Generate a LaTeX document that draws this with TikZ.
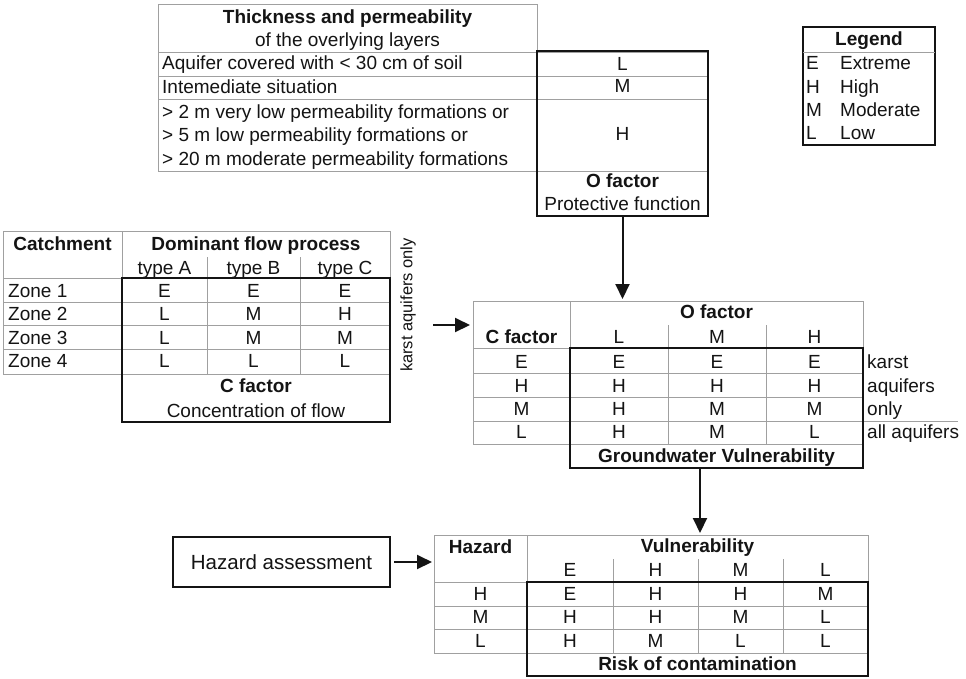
\documentclass[tikz,border=0pt]{standalone}
\usepackage{fontspec}
\setmainfont{Liberation Sans}
\usetikzlibrary{arrows.meta}
\definecolor{gridc}{RGB}{160,160,160}
\definecolor{ink}{RGB}{20,20,20}
\begin{document}
\begin{tikzpicture}[x=1pt,y=-1pt,
  thinl/.style={draw=gridc, line width=0.8pt},
  tbox/.style={draw=ink, line width=2pt, inner sep=0pt, outer sep=0pt, anchor=north west},
  txt/.style={anchor=base, inner sep=0pt, text=ink, font=\fontsize{19}{23}\selectfont},
  btxt/.style={txt, font=\fontsize{19}{23}\selectfont\bfseries},
  ltxt/.style={txt, anchor=base west},
  arr/.style={draw=ink, line width=2pt, -{Triangle[length=15pt,width=14pt]}}]
\useasboundingbox (0,0) rectangle (966,678);
\fill[white] (0,0) rectangle (966,678);

% ---------- top table (O factor)
\draw[thinl] (158,4) -- (537,4) -- (537,51);
\draw[thinl] (158,4) -- (158,171) -- (708,171);
\foreach \y in {52,76,99} \draw[thinl] (158,\y) -- (708,\y);
\node[tbox, minimum width=171pt, minimum height=165pt] (obox) at (537,51) {};
\node[btxt] (th1) at (347.5,23) {Thickness and permeability};
\node[txt] (th2) at (347.5,46) {of the overlying layers};
\node[ltxt] (tr1) at (162,69) {Aquifer covered with < 30 cm of soil};
\node[ltxt] (tr2) at (162,93) {Intemediate situation};
\node[ltxt] (tr3a) at (162,118) {> 2 m very low permeability formations or};
\node[ltxt] (tr3b) at (162,141) {> 5 m low permeability formations or};
\node[ltxt] (tr3c) at (162,165) {> 20 m moderate permeability formations};
\node[txt] (oL) at (622.5,70) {L};
\node[txt] (oM) at (622.5,92) {M};
\node[txt] (oH) at (622.5,140) {H};
\node[btxt] (of1) at (622.5,187) {O factor};
\node[txt] (of2) at (622.5,210) {Protective function};

% ---------- legend
\node[tbox, minimum width=132pt, minimum height=118pt] (leg) at (803,27) {};
\draw[thinl] (803,52) -- (935,52);
\node[btxt] (lg) at (869,45) {Legend};
\foreach \l/\w/\y [count=\i] in {E/Extreme/69,H/High/93,M/Moderate/116,L/Low/139}{
  \node[ltxt] (legl\i) at (806,\y) {\l};
  \node[ltxt] (legw\i) at (840,\y) {\w};
}

% ---------- left table (C factor)
\draw[thinl] (3,374) -- (3,231) -- (390,231) -- (390,278);
\draw[thinl] (122,231) -- (122,278);
\foreach \y in {278,302,325,349,374} \draw[thinl] (3,\y) -- (390,\y);
\foreach \x in {207,300} \draw[thinl] (\x,257) -- (\x,374);
\node[tbox, minimum width=268pt, minimum height=144pt] (cbox) at (122,278) {};
\node[btxt] (catch) at (62.5,250) {Catchment};
\node[btxt] (dfp) at (256,250) {Dominant flow process};
\node[txt] (tA) at (164.5,274) {type A};
\node[txt] (tB) at (253.5,274) {type B};
\node[txt] (tC) at (345,274) {type C};
\foreach \z/\a/\b/\c/\y in {1/E/E/E/297,2/L/M/H/320.5,3/L/M/M/344,4/L/L/L/367.5}{
  \node[ltxt] (zone\z) at (8,\y) {Zone \z};
  \node[txt] (cA\z) at (164.5,\y) {\a};
  \node[txt] (cB\z) at (253.5,\y) {\b};
  \node[txt] (cC\z) at (345,\y) {\c};
}
\node[btxt] (cf1) at (256,392) {C factor};
\node[txt] (cf2) at (256,417) {Concentration of flow};
\node[txt, anchor=center, rotate=90, font=\fontsize{16.5}{20}\selectfont] (karst) at (408,305) {karst aquifers only};

% ---------- middle table (vulnerability)
\draw[thinl] (473,444) -- (473,301) -- (863,301) -- (863,348);
\draw[thinl] (570,301) -- (570,348);
\foreach \y in {348,373,397,421,444} \draw[thinl] (473,\y) -- (863,\y);
\foreach \x in {668,766} \draw[thinl] (\x,325) -- (\x,444);
\draw[thinl] (863,421) -- (958,421);
\node[tbox, minimum width=293pt, minimum height=120pt] (gbox) at (570,348) {};
\node[btxt] (mof) at (716.5,318) {O factor};
\node[btxt] (mcf) at (521.5,343) {C factor};
\node[txt] (mhL) at (619,343) {L};
\node[txt] (mhM) at (717,343) {M};
\node[txt] (mhH) at (814.5,343) {H};
\foreach \r/\c/\a/\b/\d/\lab/\y in {1/E/E/E/E/karst/368,2/H/H/H/H/aquifers/392,3/M/H/M/M/only/415,4/L/H/M/L/all aquifers/438}{
  \node[txt] (mc\r) at (521.5,\y) {\c};
  \node[txt] (ma\r) at (619,\y) {\a};
  \node[txt] (mb\r) at (717,\y) {\b};
  \node[txt] (md\r) at (814.5,\y) {\d};
  \node[ltxt] (ml\r) at (867,\y) {\lab};
}
\node[btxt] (gv) at (716.5,462) {Groundwater Vulnerability};

% ---------- bottom table (risk)
\node[draw=ink, line width=1.6pt, inner sep=0pt, outer sep=0pt, minimum width=217pt, minimum height=50pt, text=ink, font=\fontsize{20.5}{24}\selectfont] (haz) at (281.5,562) {Hazard assessment};
\draw[thinl] (434,653) -- (434,535) -- (868,535) -- (868,582);
\draw[thinl] (527,535) -- (527,582);
\foreach \y in {582,606,629,653} \draw[thinl] (434,\y) -- (868,\y);
\foreach \x in {613,698,783} \draw[thinl] (\x,559) -- (\x,653);
\node[tbox, minimum width=341pt, minimum height=93.5pt] (rbox) at (527,582) {};
\node[btxt] (hz) at (480.5,553) {Hazard};
\node[btxt] (vul) at (697.5,552) {Vulnerability};
\node[txt] (vE) at (570,576) {E};
\node[txt] (vH) at (655.5,576) {H};
\node[txt] (vM) at (740.5,576) {M};
\node[txt] (vL) at (825.5,576) {L};
\foreach \r/\h/\a/\b/\c/\d/\y in {1/H/E/H/H/M/600,2/M/H/H/M/L/623,3/L/H/M/L/L/647}{
  \node[txt] (rh\r) at (480.5,\y) {\h};
  \node[txt] (ra\r) at (570,\y) {\a};
  \node[txt] (rb\r) at (655.5,\y) {\b};
  \node[txt] (rc\r) at (740.5,\y) {\c};
  \node[txt] (rd\r) at (825.5,\y) {\d};
}
\node[btxt] (risk) at (697.5,670) {Risk of contamination};

% ---------- connectors
\coordinate (mIn) at (622.5,299);
\coordinate (kOut) at (433,325);
\coordinate (kIn) at (470,325);
\coordinate (rIn) at (700,533);
\coordinate (hIn) at (432,562);
\draw[arr] (obox.south) -- (mIn);
\draw[arr] (kOut) -- (kIn);
\draw[arr] (gbox.south -| rIn) -- (rIn);
\draw[arr, shorten <=4pt] (haz.east) -- (hIn);
\end{tikzpicture}
\end{document}
